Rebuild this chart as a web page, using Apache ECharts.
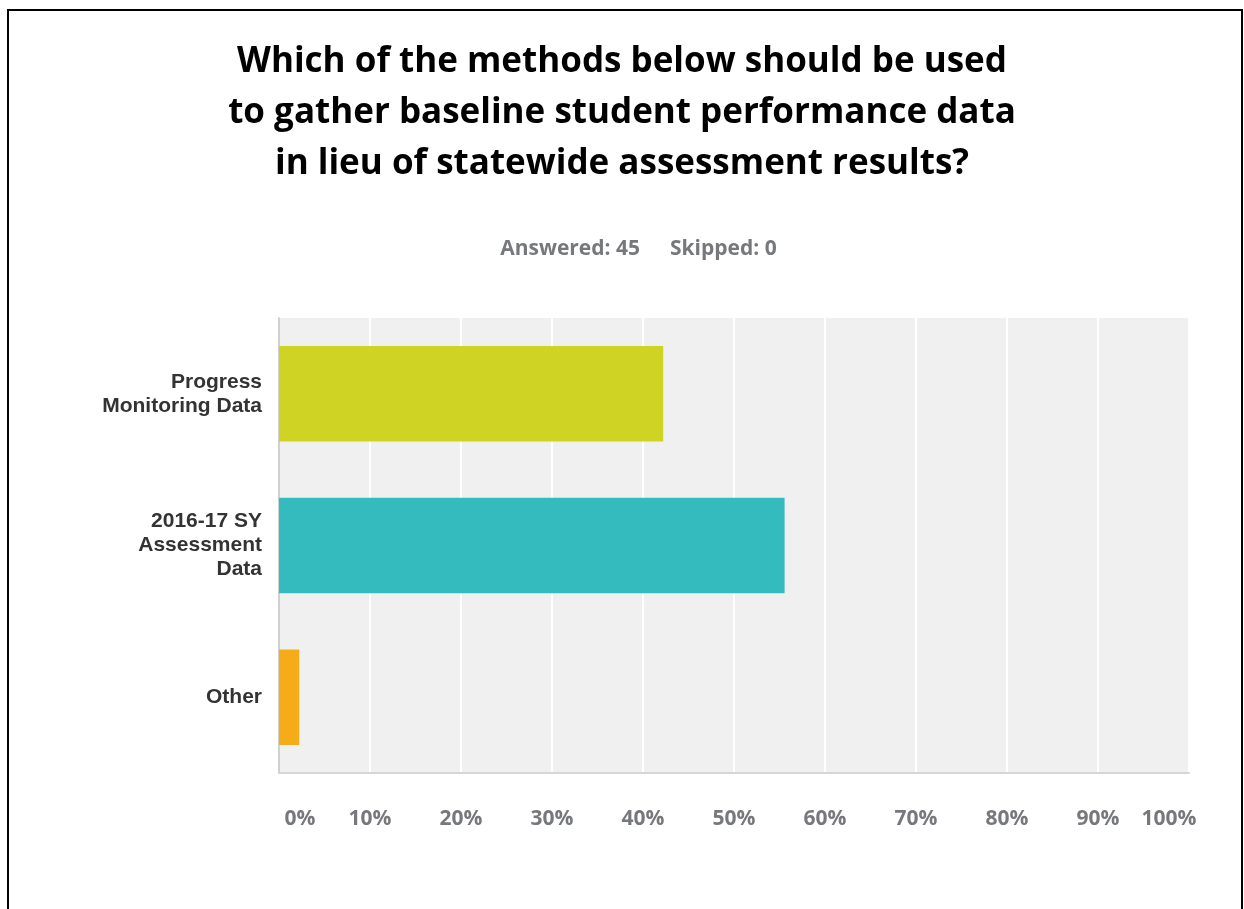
<!DOCTYPE html>
<html>
<head>
<meta charset="utf-8">
<script src="https://cdn.jsdelivr.net/npm/echarts@6/dist/echarts.min.js"></script>
<style>
html,body{margin:0;padding:0;background:#fff;}
#chart{width:1244px;height:909px;}
</style>
</head>
<body>
<div id="chart"></div>
<script>
var titleLines = ['Which of the methods below should be used', 'to gather baseline student performance data', 'in lieu of statewide assessment results?'];
var answeredText = 'Answered: 45';
var skippedText = 'Skipped: 0';
var categories = ['Progress\nMonitoring Data', '2016-17 SY\nAssessment\nData', 'Other'];
var values = [42.22, 55.56, 2.22];
var barColors = ['#cfd324', '#33bbbd', '#f6ab19'];
var tickValues = [0, 10, 20, 30, 40, 50, 60, 70, 80, 90, 100];

var chart = echarts.init(document.getElementById('chart'), null, {renderer: 'canvas'});
var option = {
  backgroundColor: '#ffffff',
  animation: false,
  title: {
    text: titleLines.join('\n'),
    left: 'center',
    top: 32,
    textStyle: {
      fontFamily: 'Open Sans',
      fontWeight: 'bold',
      fontSize: 35,
      lineHeight: 51,
      color: '#000000'
    }
  },
  graphic: [
    {
      type: 'rect',
      shape: {x: 8, y: 10, width: 1234, height: 940},
      style: {fill: null, stroke: '#000', lineWidth: 2},
      silent: true, z: 100
    },
    {
      type: 'text',
      x: 640, y: 249,
      style: {
        text: answeredText, align: 'right', verticalAlign: 'middle',
        font: 'bold 21px "Open Sans"', fill: '#76787b'
      }
    },
    {
      type: 'text',
      x: 670, y: 249,
      style: {
        text: skippedText, align: 'left', verticalAlign: 'middle',
        font: 'bold 21px "Open Sans"', fill: '#76787b'
      }
    }
  ],
  grid: {
    left: 279, right: 55, top: 318, bottom: 136,
    show: true, backgroundColor: '#f0f0f0', borderWidth: 0,
    containLabel: false
  },
  xAxis: {
    type: 'value',
    min: 0, max: 100, interval: 10,
    axisLine: {show: true, lineStyle: {color: '#d6d6d6', width: 2}},
    axisTick: {show: false},
    splitLine: {show: true, lineStyle: {color: '#ffffff', width: 2}},
    axisLabel: {
      margin: 36,
      fontFamily: 'Open Sans',
      fontWeight: 'bold',
      fontSize: 21,
      color: '#76787b',
      formatter: function (v) {
        if (v === tickValues[0]) return '{mn|' + v + '%}';
        if (v === tickValues[tickValues.length - 1]) return '{mx|' + v + '%}';
        return v + '%';
      },
      rich: {
        mn: {padding: [0, 0, 0, 42], fontFamily: 'Open Sans', fontWeight: 'bold', fontSize: 21, color: '#76787b'},
        mx: {padding: [0, 40, 0, 0], fontFamily: 'Open Sans', fontWeight: 'bold', fontSize: 21, color: '#76787b'}
      }
    }
  },
  yAxis: {
    type: 'category',
    inverse: true,
    data: categories,
    axisLine: {show: true, lineStyle: {color: '#d0d0d0', width: 2}},
    axisTick: {show: false},
    splitLine: {show: false},
    axisLabel: {
      margin: 17,
      fontFamily: 'Liberation Sans',
      fontWeight: 'bold',
      fontSize: 21,
      lineHeight: 24,
      color: '#333333',
      align: 'right'
    }
  },
  series: [{
    type: 'bar',
    data: values.map(function (v, i) { return {value: v, itemStyle: {color: barColors[i]}}; }),
    barCategoryGap: '37%',
    silent: true
  }]
};
chart.setOption(option);
</script>
</body>
</html>
